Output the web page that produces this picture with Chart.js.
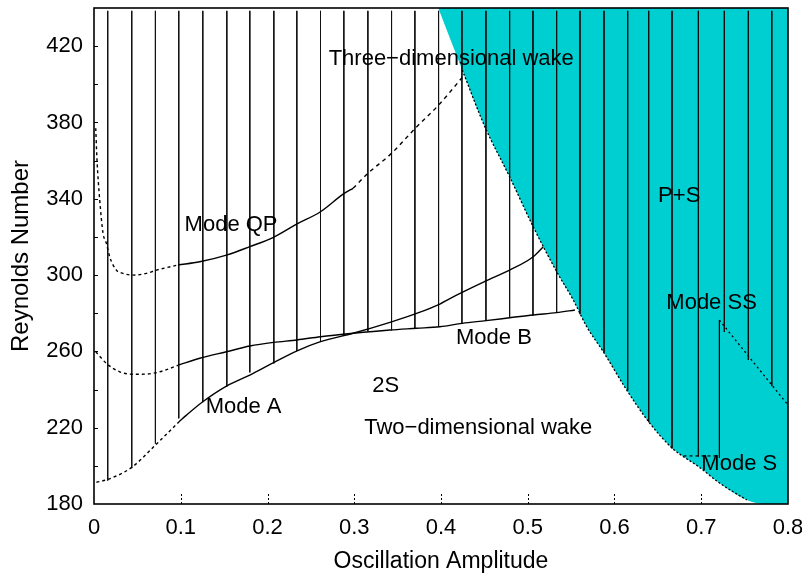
<!DOCTYPE html>
<html lang="en">
<head>
<meta charset="UTF-8" />
<title>Wake regimes map</title>
<script src="https://cdn.jsdelivr.net/npm/chart.js"></script>
<style>
  html, body { margin: 0; padding: 0; background: #fff; }
  #chart { display: block; }
</style>
</head>
<body>
<canvas id="chart" width="802" height="575"></canvas>
<script>
// ---- axes ----
const xTicks = [0, 0.1, 0.2, 0.3, 0.4, 0.5, 0.6, 0.7, 0.8];
const xTickLabels = ['0', '0.1', '0.2', '0.3', '0.4', '0.5', '0.6', '0.7', '0.8'];
const yTicks = [180, 220, 260, 300, 340, 380, 420];
const yMinorTicks = [200, 220, 240, 260, 280, 300, 320, 340, 360, 380, 400, 420];
const xMinorTicks = [0.1, 0.2, 0.3, 0.4, 0.5, 0.6, 0.7];

// ---- Mode QP curve (dashed / solid / dashed) ----
const qpLeftX = [0.002, 0.0035, 0.0066, 0.0104, 0.0143, 0.0181, 0.0258, 0.0334, 0.045, 0.0604, 0.072, 0.0969];
const qpLeftY = [377, 360, 339.3, 322, 316.6, 309.6, 302.6, 300.9, 300, 300.9, 302.6, 305.3];
const qpMidX = [0.0969, 0.1219, 0.1527, 0.1796, 0.2069, 0.2341, 0.2611, 0.2884, 0.2987];
const qpMidY = [305.3, 307, 310.5, 314.9, 319.8, 326.8, 333.2, 342.8, 345.5];
const qpRightX = [0.2987, 0.3157, 0.343, 0.3702, 0.3972, 0.4245];
const qpRightY = [345.5, 353.3, 363.8, 376.9, 389.1, 403.6];

// ---- Mode B curve ----
const bLeftX = [0.002, 0.0143, 0.0296, 0.045, 0.0604, 0.0758, 0.098];
const bLeftY = [259.8, 253.7, 249.3, 248, 248.1, 249.3, 252.9];
const bRightX = [0.098, 0.1219, 0.1527, 0.1796, 0.2069, 0.2341, 0.2611, 0.2987, 0.341, 0.3719, 0.3987, 0.4245, 0.4518, 0.4791, 0.5063, 0.5333, 0.5544];
const bRightY = [252.9, 256.4, 259.8, 262.8, 264.7, 266, 267.7, 269.5, 271.2, 272.1, 272.9, 274.7, 276.1, 277.6, 279.1, 280.3, 281.7];

// ---- Mode A curve ----
const aLeftX = [0.0028, 0.0161, 0.0435, 0.0708, 0.098];
const aLeftY = [191.4, 192.9, 199.2, 210.9, 223.1];
const aRightX = [0.098, 0.1066, 0.1254, 0.1527, 0.1796, 0.2069, 0.2341, 0.2611, 0.2987, 0.343, 0.3719, 0.3987, 0.4103, 0.4518, 0.4791, 0.5063, 0.5179];
const aRightY = [223.1, 226.6, 233.6, 241.8, 247.6, 254.1, 260.3, 265.1, 269.5, 275.5, 279.9, 284.8, 287.7, 296.9, 302.6, 309.6, 314.9];

// ---- P+S region boundary ----
const edgeX = [0.3968, 0.4245, 0.4506, 0.4791, 0.5063, 0.5333, 0.5525, 0.568, 0.5871, 0.6141, 0.6394, 0.6667, 0.6971, 0.7217, 0.7525, 0.7736, 0.8];
const edgeY = [440, 407.5, 377.7, 351.5, 325.3, 301.8, 286.9, 272.9, 259.8, 239.7, 223.1, 209.2, 199.5, 190.8, 182.1, 180, 180];

// ---- Mode SS / Mode S ----
const ssX = [0.7209, 0.7978, 0.8];
const ssY = [276.4, 233.1, 231.9];
const sVertX = [0.7209, 0.7209];
const sVertY = [276.4, 204.1];
const sFlatX = [0.6795, 0.7209];
const sFlatY = [205.2, 205.2];

// ---- vertical hatching ----
const hatchTop = 438.5;
const hatchX = [0.0158, 0.0435, 0.0708, 0.0977, 0.1254, 0.1531, 0.1796, 0.2073, 0.2338, 0.2611, 0.2880, 0.3157, 0.3430, 0.3699, 0.3972, 0.4241, 0.4518, 0.4791, 0.5060, 0.5333, 0.5602, 0.5879, 0.6152, 0.6394, 0.6663, 0.6967, 0.7266, 0.7543, 0.7813];
const hatchBottom = [192.3, 198.8, 211.7, 224.9, 233.4, 241.6, 249, 253.7, 260.2, 264.9, 268.4, 270.5, 271.1, 271.9, 272.8, 274.5, 275.9, 277.5, 278.9, 280.3, 279.5, 259.5, 239.5, 222.9, 209.1, 204.9, 270.2, 255.5, 241.8];

// ---- region labels ----
const labelText = ['Three\u2212dimensional wake', 'Mode QP', 'Mode A', 'Mode B', '2S', 'Two\u2212dimensional wake', 'P+S', 'Mode SS', 'Mode S'];
const labelX = [0.4118, 0.158, 0.1724, 0.461, 0.3364, 0.4429, 0.6746, 0.7119, 0.7438];
const labelY = [413.2, 326.2, 231, 267.1, 241.7, 219.8, 341.3, 285.6, 200.9];

const FONT = '"Liberation Sans", Arial, Helvetica, sans-serif';
const CYAN = '#00cfd1';

function pts(xs, ys) {
  return xs.map((x, i) => ({ x: x, y: ys[i] }));
}

function curve(xs, ys, dash, extra) {
  return Object.assign({
    data: pts(xs, ys),
    borderColor: '#000',
    borderWidth: 1.4,
    borderDash: dash || [],
    pointRadius: 0,
    fill: false,
    cubicInterpolationMode: 'monotone',
    order: 1
  }, extra || {});
}

// hatching as one dataset, broken with null points
const hatchData = [];
hatchX.forEach((x, i) => {
  hatchData.push({ x: x, y: hatchTop }, { x: x, y: hatchBottom[i] }, { x: x, y: null });
});

// frame, small ticks and region labels
const decorations = {
  id: 'decorations',
  afterDraw(chart) {
    const { ctx, chartArea: a, scales: { x, y } } = chart;
    ctx.save();
    ctx.strokeStyle = '#000';

    // y ticks (inside, small)
    ctx.lineWidth = 1;
    yMinorTicks.forEach(v => {
      const py = Math.round(y.getPixelForValue(v)) + 0.5;
      ctx.beginPath();
      ctx.moveTo(a.left, py);
      ctx.lineTo(a.left + 4, py);
      ctx.stroke();
    });

    // x ticks (dashed, inside)
    ctx.setLineDash([2, 2]);
    xMinorTicks.forEach(v => {
      const px = Math.round(x.getPixelForValue(v)) + 0.5;
      ctx.beginPath();
      ctx.moveTo(px, a.bottom);
      ctx.lineTo(px, a.bottom - 10);
      ctx.stroke();
    });
    ctx.setLineDash([]);

    // frame
    ctx.lineWidth = 1.6;
    ctx.strokeRect(a.left, a.top, a.right - a.left, a.bottom - a.top);

    // labels
    ctx.fillStyle = '#000';
    ctx.font = '22px ' + FONT;
    ctx.textAlign = 'center';
    ctx.textBaseline = 'middle';
    labelText.forEach((t, i) => {
      ctx.fillText(t, x.getPixelForValue(labelX[i]), y.getPixelForValue(labelY[i]));
    });
    ctx.restore();
  }
};

new Chart(document.getElementById('chart'), {
  type: 'line',
  data: {
    datasets: [
      // curves on top
      curve(qpLeftX, qpLeftY, [3, 3]),
      curve(qpMidX, qpMidY),
      curve(qpRightX, qpRightY, [4, 4]),
      curve(bLeftX, bLeftY, [3, 3]),
      curve(bRightX, bRightY),
      curve(aLeftX, aLeftY, [3, 3]),
      curve(aRightX, aRightY),
      curve(edgeX.slice(1, 15), edgeY.slice(1, 15), [2, 2], { borderWidth: 1.3 }),
      curve(ssX, ssY, [2, 3], { borderWidth: 1.3, cubicInterpolationMode: 'default', tension: 0 }),
      curve(sVertX, sVertY, [], { borderWidth: 1.2, cubicInterpolationMode: 'default', tension: 0 }),
      curve(sFlatX, sFlatY, [3, 3], { borderWidth: 1.2, cubicInterpolationMode: 'default', tension: 0 }),
      // hatching
      {
        data: hatchData,
        borderColor: '#111',
        borderWidth: 1,
        pointRadius: 0,
        tension: 0,
        spanGaps: false,
        fill: false,
        order: 2
      },
      // P+S filled region
      {
        data: pts(edgeX, edgeY),
        borderWidth: 0,
        borderColor: CYAN,
        backgroundColor: CYAN,
        pointRadius: 0,
        cubicInterpolationMode: 'monotone',
        fill: 'end',
        order: 3
      }
    ]
  },
  options: {
    responsive: false,
    animation: false,
    devicePixelRatio: 1,
    layout: { padding: { top: 8, right: 14, left: 0, bottom: 0 } },
    plugins: {
      legend: { display: false },
      tooltip: { enabled: false }
    },
    scales: {
      x: {
        type: 'linear',
        min: 0,
        max: 0.8,
        grid: { display: false, drawTicks: false },
        border: { display: false },
        afterBuildTicks: s => { s.ticks = xTicks.map(v => ({ value: v })); },
        afterFit: s => { s.height = 71; s.paddingLeft = 0; s.paddingRight = 0; },
        ticks: {
          padding: 11,
          color: '#000',
          autoSkip: false,
          maxRotation: 0,
          font: { family: FONT, size: 22 },
          callback: (v, i) => xTickLabels[i]
        },
        title: {
          display: true,
          text: 'Oscillation Amplitude',
          color: '#000',
          font: { family: FONT, size: 23 },
          padding: { top: 0, bottom: 0 }
        }
      },
      y: {
        type: 'linear',
        min: 180,
        max: 440,
        grid: { display: false, drawTicks: false },
        border: { display: false },
        afterBuildTicks: s => { s.ticks = yTicks.map(v => ({ value: v })); },
        afterFit: s => { s.width = 94; s.paddingTop = 0; s.paddingBottom = 0; },
        ticks: {
          padding: 11,
          color: '#000',
          autoSkip: false,
          font: { family: FONT, size: 22 }
        },
        title: {
          display: true,
          text: 'Reynolds Number',
          color: '#000',
          font: { family: FONT, size: 24 },
          padding: { top: 7, bottom: 0 }
        }
      }
    }
  },
  plugins: [decorations]
});
</script>
</body>
</html>
